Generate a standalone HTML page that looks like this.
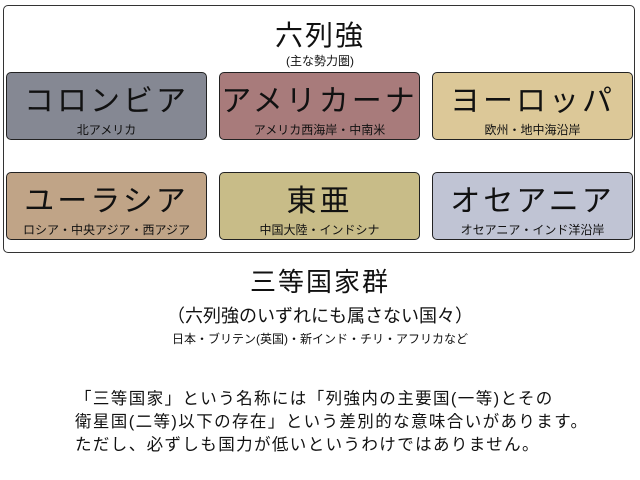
<!DOCTYPE html>
<html><head><meta charset="utf-8"><style>
body{margin:0;width:640px;height:480px;background:#fff;position:relative;font-family:"Liberation Sans","Noto Sans CJK JP",sans-serif;color:#111;overflow:hidden}
.a{position:absolute;white-space:nowrap}
.c{text-align:center}
.outer{position:absolute;left:3px;top:5px;width:630px;height:246px;border:1.5px solid #333;border-radius:5px}
.b{position:absolute;width:199px;height:66px;border:1.5px solid #222;border-radius:5px;text-align:center}
.b .t{font-size:30px;line-height:30px;margin-top:14px;letter-spacing:3px}
.b .s{font-size:12px;line-height:14px;margin-top:6px}
.p{font-size:16.5px;left:75px;letter-spacing:1.4px}
</style></head><body>
<div class="outer"></div>
<div class="a c" style="left:0;width:640px;top:14px;font-size:28px;letter-spacing:2px">六列強</div>
<div class="a c" style="left:0;width:640px;top:52px;font-size:12px">(主な勢力圏)</div>
<div class="b" style="left:6px;top:72px;background:#858893"><div class="t">コロンビア</div><div class="s">北アメリカ</div></div>
<div class="b" style="left:219px;top:72px;background:#a87b7b"><div class="t">アメリカーナ</div><div class="s">アメリカ西海岸・中南米</div></div>
<div class="b" style="left:432px;top:72px;background:#dcc898"><div class="t">ヨーロッパ</div><div class="s">欧州・地中海沿岸</div></div>
<div class="b" style="left:6px;top:172px;background:#c0a487"><div class="t">ユーラシア</div><div class="s">ロシア・中央アジア・西アジア</div></div>
<div class="b" style="left:219px;top:172px;background:#c8bc88"><div class="t">東亜</div><div class="s">中国大陸・インドシナ</div></div>
<div class="b" style="left:432px;top:172px;background:#c0c4d4"><div class="t">オセアニア</div><div class="s">オセアニア・インド洋沿岸</div></div>
<div class="a c" style="left:0;width:640px;top:262px;font-size:26px;letter-spacing:2px">三等国家群</div>
<div class="a c" style="left:0;width:640px;top:302px;font-size:18px">（六列強のいずれにも属さない国々）</div>
<div class="a c" style="left:0;width:640px;top:330px;font-size:12px">日本・ブリテン(英国)・新インド・チリ・アフリカなど</div>
<div class="a p" style="top:385px">「三等国家」という名称には「列強内の主要国(一等)とその</div>
<div class="a p" style="top:408px">衛星国(二等)以下の存在」という差別的な意味合いがあります。</div>
<div class="a p" style="top:431px">ただし、必ずしも国力が低いというわけではありません。</div>
</body></html>
